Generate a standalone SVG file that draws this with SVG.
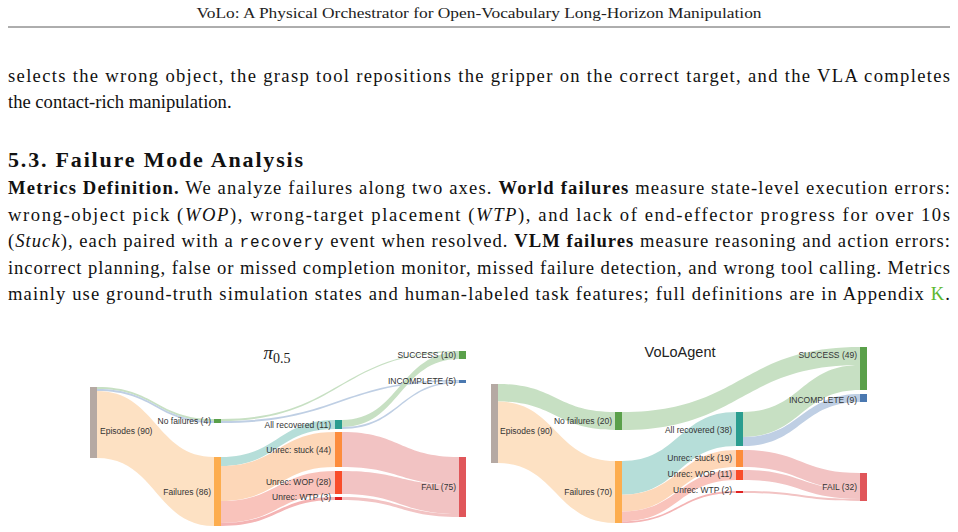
<svg xmlns="http://www.w3.org/2000/svg" width="958" height="532" viewBox="0 0 958 532">
<style>
.t{font-family:"Liberation Serif","DejaVu Serif",serif;font-size:18.6px;fill:#111}
.b{font-weight:bold}
.i{font-style:italic}
.m{font-family:"Liberation Mono",monospace;font-size:16px}
.l{font-family:"Liberation Sans",Arial,sans-serif;font-size:8.5px;fill:#333;text-anchor:end}
.g{fill:#c5dfc0}.o{fill:#fde0c0}.te{fill:#b3ddd7}.pe{fill:#fdd5b5}.pk{fill:#f9c0b8}.pw{fill:#f4b0b0}.bl{fill:#bccde3}.r{fill:#f2c0c0}
</style>
<rect width="958" height="532" fill="#fff"/>
<text x="479" y="18" text-anchor="middle" textLength="565" lengthAdjust="spacingAndGlyphs" style="font-family:'Liberation Serif',serif;font-size:14.5px;fill:#222">VoLo: A Physical Orchestrator for Open-Vocabulary Long-Horizon Manipulation</text>
<line x1="8" y1="27" x2="950" y2="27" stroke="#333" stroke-width="0.8"/>
<text class="t" x="8" y="82" textLength="942" lengthAdjust="spacing">selects the wrong object, the grasp tool repositions the gripper on the correct target, and the VLA completes</text>
<text class="t" x="8" y="108">the contact-rich manipulation.</text>
<text class="t b" x="8" y="167" style="font-size:22px" textLength="295" lengthAdjust="spacing">5.3. Failure Mode Analysis</text>
<text class="t" x="8" y="194" textLength="942" lengthAdjust="spacing"><tspan class="b">Metrics Definition.</tspan>  We analyze failures along two axes. <tspan class="b">World failures</tspan> measure state-level execution errors:</text>
<text class="t" x="8" y="220.5" textLength="942" lengthAdjust="spacing">wrong-object pick (<tspan class="i">WOP</tspan>), wrong-target placement (<tspan class="i">WTP</tspan>), and lack of end-effector progress for over 10s</text>
<text class="t" x="8" y="247" textLength="942" lengthAdjust="spacing">(<tspan class="i">Stuck</tspan>), each paired with a <tspan class="m">recovery</tspan> event when resolved. <tspan class="b">VLM failures</tspan> measure reasoning and action errors:</text>
<text class="t" x="8" y="273.5" textLength="942" lengthAdjust="spacing">incorrect planning, false or missed completion monitor, missed failure detection, and wrong tool calling. Metrics</text>
<text class="t" x="8" y="300" textLength="942" lengthAdjust="spacing">mainly use ground-truth simulation states and human-labeled task features; full definitions are in Appendix <tspan fill="#5cb82e">K</tspan>.</text>

<g id="connectors" opacity="0.95">
<path class="g" d="M97 387C156 387 156 419 214 419L214 421C156 421 156 389 97 389Z"/>
<path class="bl" d="M97 389C156 389 156 421 214 421L214 423C156 423 156 391 97 391Z"/>
<path class="o" d="M97 391C156 391 156 457 214 457L214 526C156 526 156 458 97 458Z"/>
<path class="g" d="M221 419C340 419 340 351 459 351L459 352C340 352 340 421 221 421Z"/>
<path class="bl" d="M221 421C340 421 340 380 459 380L459 381.5C340 381.5 340 423 221 423Z"/>
<path class="te" d="M221 457C278 457 278 420 335 420L335 429C278 429 278 466 221 466Z"/>
<path class="pe" d="M221 466C278 466 278 432 335 432L335 467C278 467 278 501 221 501Z"/>
<path class="pk" d="M221 501C278 501 278 471 335 471L335 494C278 494 278 523 221 523Z"/>
<path class="pw" d="M221 523C278 523 278 497 335 497L335 500C278 500 278 526 221 526Z"/>
<path class="g" d="M342 420C400 420 400 352 459 352L459 359C400 359 400 427 342 427Z"/>
<path class="bl" d="M342 427C400 427 400 381.5 459 381.5L459 383C400 383 400 429 342 429Z"/>
<path class="r" d="M342 432C400 432 400 457 459 457L459 485C400 485 400 467 342 467Z"/>
<path class="r" d="M342 471C400 471 400 485 459 485L459 514C400 514 400 494 342 494Z"/>
<path class="r" d="M342 497C400 497 400 514 459 514L459 517C400 517 400 500 342 500Z"/>
<path class="g" d="M498 384C556 384 556 412 615 412L615 430C556 430 556 401.5 498 401.5Z"/>
<path class="o" d="M498 401.5C556 401.5 556 461 615 461L615 523C556 523 556 463 498 463Z"/>
<path class="g" d="M622 412C741 412 741 347 860 347L860 365C741 365 741 430 622 430Z"/>
<path class="te" d="M622 461C679 461 679 412 736 412L736 446C679 446 679 494.7 622 494.7Z"/>
<path class="pe" d="M622 494.7C679 494.7 679 450 736 450L736 467C679 467 679 511.5 622 511.5Z"/>
<path class="pk" d="M622 511.5C679 511.5 679 470 736 470L736 480C679 480 679 521.3 622 521.3Z"/>
<path class="pw" d="M622 521.3C679 521.3 679 491 736 491L736 493C679 493 679 523 622 523Z"/>
<path class="g" d="M743 412C801 412 801 365 860 365L860 390C801 390 801 437 743 437Z"/>
<path class="bl" d="M743 437C801 437 801 394 860 394L860 402C801 402 801 446 743 446Z"/>
<path class="r" d="M743 450C801 450 801 473 860 473L860 490C801 490 801 467 743 467Z"/>
<path class="r" d="M743 470C801 470 801 490 860 490L860 499C801 499 801 480 743 480Z"/>
<path class="r" d="M743 491C801 491 801 499 860 499L860 501C801 501 801 493 743 493Z"/>
</g>

<text x="277" y="359" text-anchor="middle" style="font-family:'Liberation Serif',serif;font-size:19px;fill:#222"><tspan font-style="italic">π</tspan><tspan font-size="14" dy="4">0.5</tspan></text>
<text x="680" y="357" text-anchor="middle" style="font-family:'Liberation Sans',sans-serif;font-size:14.5px;fill:#222">VoLoAgent</text>

<g id="l-episodes"><rect x="90" y="387" width="7" height="71" fill="#b5a9a3"/><text class="l" x="100" y="434" style="text-anchor:start">Episodes (90)</text></g>
<g id="l-nofail"><rect x="214" y="419" width="7" height="4" fill="#5aa04a"/><text class="l" x="211" y="424">No failures (4)</text></g>
<g id="l-failures"><rect x="214" y="457" width="7" height="69" fill="#fdad4e"/><text class="l" x="211" y="495">Failures (86)</text></g>
<g id="l-allrec"><rect x="335" y="420" width="7" height="9" fill="#2a9d8f"/><text class="l" x="331" y="428">All recovered (11)</text></g>
<g id="l-stuck"><rect x="335" y="432" width="7" height="35" fill="#fd8c3c"/><text class="l" x="331" y="453">Unrec: stuck (44)</text></g>
<g id="l-wop"><rect x="335" y="471" width="7" height="23" fill="#f94d2a"/><text class="l" x="331" y="485">Unrec: WOP (28)</text></g>
<g id="l-wtp"><rect x="335" y="497" width="7" height="3" fill="#e02020"/><text class="l" x="331" y="500">Unrec: WTP (3)</text></g>
<g id="l-success"><rect x="459" y="351" width="7" height="8" fill="#5aa04a"/><text class="l" x="456" y="358">SUCCESS (10)</text></g>
<g id="l-incomplete"><rect x="459" y="380" width="7" height="3" fill="#4a78b0"/><text class="l" x="456" y="384">INCOMPLETE (5)</text></g>
<g id="l-fail"><rect x="459" y="457" width="7" height="60" fill="#e0565a"/><text class="l" x="456" y="490">FAIL (75)</text></g>

<g id="r-episodes"><rect x="491" y="384" width="7" height="79" fill="#b5a9a3"/><text class="l" x="500" y="434" style="text-anchor:start">Episodes (90)</text></g>
<g id="r-nofail"><rect x="615" y="412" width="7" height="18" fill="#5aa04a"/><text class="l" x="612" y="424">No failures (20)</text></g>
<g id="r-failures"><rect x="615" y="461" width="7" height="62" fill="#fdad4e"/><text class="l" x="612" y="495">Failures (70)</text></g>
<g id="r-allrec"><rect x="736" y="412" width="7" height="34" fill="#2a9d8f"/><text class="l" x="732" y="433">All recovered (38)</text></g>
<g id="r-stuck"><rect x="736" y="450" width="7" height="17" fill="#fd8c3c"/><text class="l" x="732" y="461">Unrec: stuck (19)</text></g>
<g id="r-wop"><rect x="736" y="470" width="7" height="10" fill="#f94d2a"/><text class="l" x="732" y="477">Unrec: WOP (11)</text></g>
<g id="r-wtp"><rect x="736" y="491" width="7" height="2" fill="#e02020"/><text class="l" x="732" y="493">Unrec: WTP (2)</text></g>
<g id="r-success"><rect x="860" y="347" width="7" height="43" fill="#5aa04a"/><text class="l" x="857" y="358">SUCCESS (49)</text></g>
<g id="r-incomplete"><rect x="860" y="394" width="7" height="8" fill="#4a78b0"/><text class="l" x="857" y="403">INCOMPLETE (9)</text></g>
<g id="r-fail"><rect x="860" y="473" width="7" height="28" fill="#e0565a"/><text class="l" x="857" y="490">FAIL (32)</text></g>
</svg>
